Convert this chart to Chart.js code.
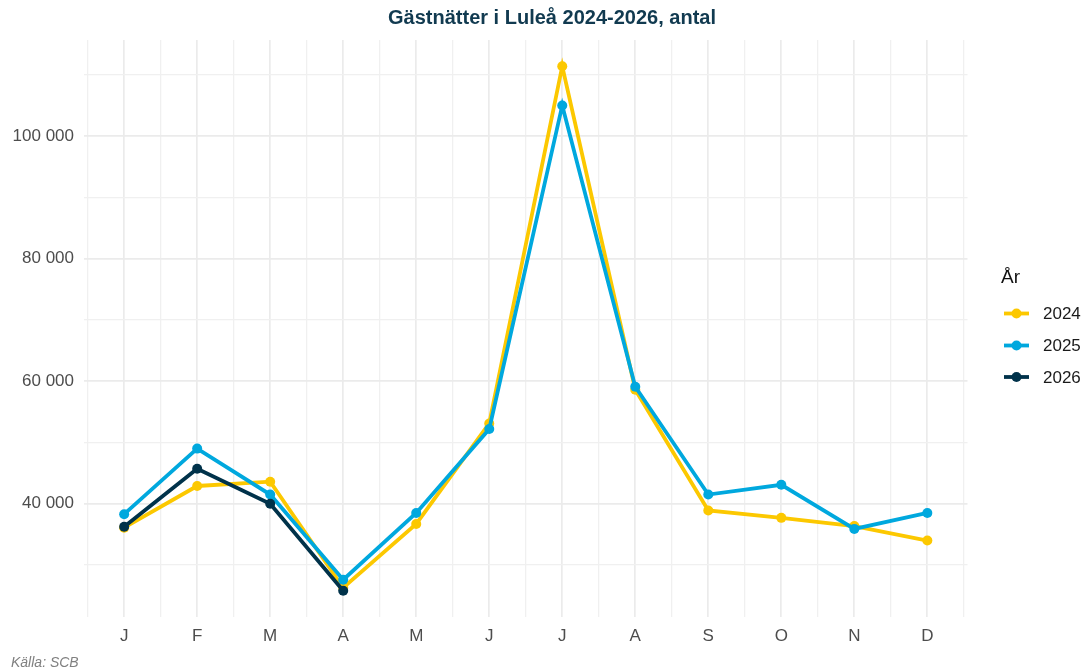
<!DOCTYPE html>
<html>
<head>
<meta charset="utf-8">
<script src="https://cdn.jsdelivr.net/npm/chart.js@4"></script>
<style>
  html, body { margin: 0; padding: 0; background: #ffffff; }
  #wrap { width: 1086px; height: 671px; position: relative; }
</style>
</head>
<body>
<div id="wrap"><canvas id="c" width="1086" height="671"></canvas></div>
<script>
// ---- data ----
const months = ["J", "F", "M", "A", "M", "J", "J", "A", "S", "O", "N", "D"];
const years = ["2024", "2025", "2026"];
const values2024 = [36100, 42900, 43600, 26300, 36700, 53100, 111400, 58600, 38900, 37700, 36350, 34000];
const values2025 = [38300, 49000, 41500, 27600, 38500, 52200, 105000, 59100, 41500, 43100, 35900, 38500];
const values2026 = [36250, 45700, 40000, 25800];
const yTickValues = [40000, 60000, 80000, 100000];
const yMinorValues = [30000, 50000, 70000, 90000, 110000];
const titleText = "Gästnätter i Luleå 2024-2026, antal";
const legendTitle = "År";
const captionText = "Källa: SCB";

const colors = ["#FCC800", "#00A8DE", "#00324A"];
const FONT = "'Liberation Sans', Arial, Helvetica, sans-serif";

const seriesValues = [values2024, values2025, values2026];
const toPoints = arr => arr.map((v, i) => ({ x: i + 1, y: v }));

// ggplot-like 5% expansion
const allVals = seriesValues.flat();
const yMinD = Math.min(...allVals), yMaxD = Math.max(...allVals);
const yExp = (yMaxD - yMinD) * 0.05;
const xExp = (12 - 1) * 0.05;

const fmt = v => String(v).replace(/\B(?=(\d{3})+(?!\d))/g, " ");

const datasets = years.map((yr, k) => ({
  label: yr,
  data: toPoints(seriesValues[k]),
  borderColor: colors[k],
  backgroundColor: colors[k],
  pointBackgroundColor: colors[k],
  pointBorderColor: colors[k],
  borderWidth: 3.8,
  pointRadius: 5,
  pointBorderWidth: 0,
  pointHoverRadius: 5,
  tension: 0,
  order: 3 - k
}));

const decorPlugin = {
  id: "decor",
  afterDraw(chart) {
    const ctx = chart.ctx;
    ctx.save();
    // title
    ctx.fillStyle = "#113A50";
    ctx.font = "bold 20px " + FONT;
    ctx.textAlign = "center";
    ctx.textBaseline = "middle";
    ctx.fillText(titleText, 552, 18);
    // caption
    ctx.fillStyle = "#808080";
    ctx.font = "italic 14px " + FONT;
    ctx.textAlign = "left";
    ctx.fillText(captionText, 11, 663);
    // legend
    ctx.fillStyle = "#111111";
    ctx.font = "19px " + FONT;
    ctx.fillText(legendTitle, 1001, 278);
    const rows = [313.5, 345.5, 377];
    chart.data.datasets.forEach((ds, i) => {
      const y = rows[i];
      ctx.strokeStyle = ds.borderColor;
      ctx.lineWidth = 3.8;
      ctx.beginPath();
      ctx.moveTo(1004, y);
      ctx.lineTo(1029, y);
      ctx.stroke();
      ctx.fillStyle = ds.borderColor;
      ctx.beginPath();
      ctx.arc(1016.5, y, 5, 0, Math.PI * 2);
      ctx.fill();
      ctx.fillStyle = "#1A1A1A";
      ctx.font = "17px " + FONT;
      ctx.fillText(ds.label, 1043, y + 1);
    });
    ctx.restore();
  }
};

new Chart(document.getElementById("c"), {
  type: "line",
  data: { datasets },
  plugins: [decorPlugin],
  options: {
    responsive: false,
    animation: false,
    events: [],
    layout: { padding: { left: 0, right: 118.5, top: 40, bottom: 24 } },
    plugins: {
      legend: { display: false },
      tooltip: { enabled: false },
      title: { display: false }
    },
    scales: {
      x: {
        type: "linear",
        min: 1 - xExp,
        max: 12 + xExp,
        afterBuildTicks(scale) {
          const t = [];
          for (let v = 0.5; v <= 12.5; v += 0.5) t.push({ value: v });
          scale.ticks = t;
        },
        afterFit(scale) { scale.height = 30; },
        border: { display: false },
        grid: {
          drawTicks: false,
          color: c => Number.isInteger(c.tick.value) ? "#EBEBEB" : "#F0F0F0",
          lineWidth: c => Number.isInteger(c.tick.value) ? 1.7 : 1.3
        },
        ticks: {
          autoSkip: false,
          maxRotation: 0,
          padding: 9,
          color: "#4D4D4D",
          font: { family: FONT, size: 17 },
          callback: v => Number.isInteger(v) ? months[v - 1] : ""
        }
      },
      y: {
        type: "linear",
        min: yMinD - yExp,
        max: yMaxD + yExp,
        afterBuildTicks(scale) {
          scale.ticks = yTickValues.concat(yMinorValues).sort((a, b) => a - b).map(v => ({ value: v }));
        },
        afterFit(scale) { scale.width = 84; },
        border: { display: false },
        grid: {
          drawTicks: false,
          color: c => yTickValues.includes(c.tick.value) ? "#EBEBEB" : "#F0F0F0",
          lineWidth: c => yTickValues.includes(c.tick.value) ? 1.7 : 1.3
        },
        ticks: {
          padding: 10,
          color: "#4D4D4D",
          font: { family: FONT, size: 17 },
          callback: v => yTickValues.includes(v) ? fmt(v) : ""
        }
      }
    }
  }
});
</script>
</body>
</html>
